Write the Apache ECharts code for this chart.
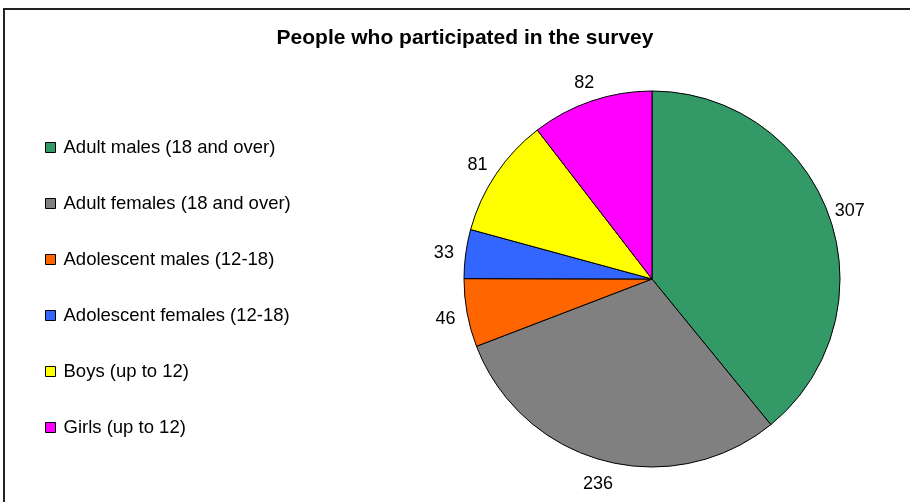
<!DOCTYPE html>
<html>
<head>
<meta charset="utf-8">
<script src="https://cdn.jsdelivr.net/npm/echarts@6/dist/echarts.min.js"></script>
<style>
html,body{margin:0;padding:0;background:#fff;}
#chart{width:910px;height:502px;}
</style>
</head>
<body>
<div id="chart"></div>
<script>
const categories = ["Adult males (18 and over)", "Adult females (18 and over)", "Adolescent males (12-18)", "Adolescent females (12-18)", "Boys (up to 12)", "Girls (up to 12)"];
const values = [307, 236, 46, 33, 81, 82];
const colors = ["#339966", "#808080", "#FF6600", "#3366FF", "#FFFF00", "#FF00FF"];
const titleText = "People who participated in the survey";

const FONT = '"Liberation Sans", Arial, sans-serif';
const chart = echarts.init(document.getElementById('chart'));
const option = {
  backgroundColor: '#fff',
  animation: false,
  title: {
    text: titleText,
    left: 465,
    top: 28,
    padding: 0,
    textAlign: 'center',
    textStyle: { fontFamily: FONT, fontSize: 21, fontWeight: 'bold', color: '#000' }
  },
  graphic: [{
    type: 'rect',
    shape: { x: 4, y: 9, width: 1000, height: 1000 },
    style: { fill: 'none', stroke: '#222', lineWidth: 2 },
    silent: true
  }],
  legend: {
    orient: 'vertical',
    left: 45,
    top: 138,
    padding: 0,
    itemWidth: 10,
    itemHeight: 10,
    itemGap: 37,
    icon: 'rect',
    data: categories,
    textStyle: { fontFamily: FONT, fontSize: 18.5, color: '#000', lineHeight: 18, padding: [0, 0, 0, 3] },
    itemStyle: { borderColor: '#000', borderWidth: 1 }
  },
  series: [{
    type: 'pie',
    center: [652, 279],
    radius: 188,
    startAngle: 90,
    clockwise: true,
    avoidLabelOverlap: false,
    data: categories.map((c, i) => ({ name: c, value: values[i], itemStyle: { color: colors[i] } })),
    itemStyle: { borderColor: '#000', borderWidth: 1 },
    label: {
      show: true,
      position: 'outside',
      formatter: '{c}',
      fontFamily: FONT,
      fontSize: 18,
      color: '#000'
    },
    labelLine: { show: true, length: 22, length2: 0, lineStyle: { opacity: 0, width: 0 } },
    labelLayout: function (p) {
      const pts = p.labelLinePoints;
      if (!pts) return {};
      return { x: pts[1][0], y: pts[1][1] + 2.5, align: 'center', verticalAlign: 'middle' };
    },
    emphasis: { disabled: true }
  }]
};
chart.setOption(option);
</script>
</body>
</html>
